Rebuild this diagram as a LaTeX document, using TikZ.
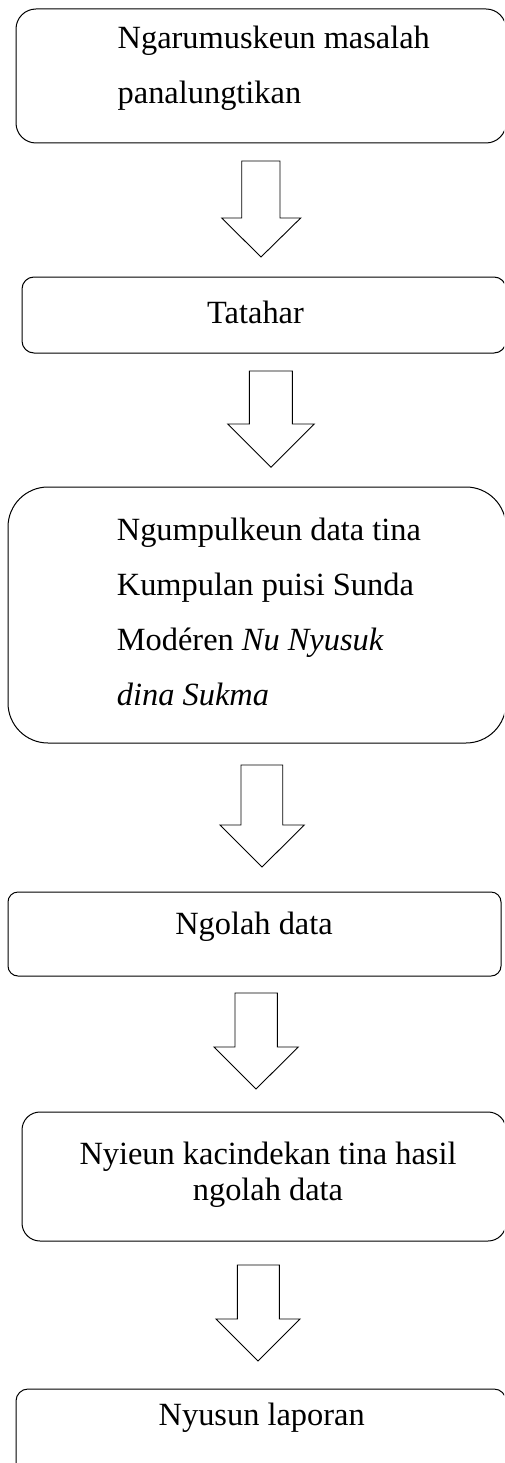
\documentclass[tikz,border=0pt]{standalone}
\usepackage{fontspec}
\setmainfont{Liberation Serif}
\begin{document}
\begin{tikzpicture}[x=1pt,y=-1pt,
  box/.style={draw=black, line width=1pt, inner sep=0pt},
  txt/.style={inner sep=0pt, font=\fontsize{32.4}{55.3}\selectfont},
  blk/.style={draw=black, line width=0.9pt, fill=white, line join=miter}]
\useasboundingbox (0,0) rectangle (504,1463);
\clip (0,0) rectangle (504,1463);
\newcommand\blockarrow[8]{%
  \draw[blk] (#2,#1) -- (#3,#1) -- (#3,#4) -- (#6,#4) -- (#8,#7) -- (#5,#4) -- (#2,#4) -- cycle;}
% boxes
\node[box, rounded corners=20pt, minimum width=490pt, minimum height=134pt] (b1) at (261,76) {};
\node[box, rounded corners=12pt, minimum width=484pt, minimum height=76pt] (b2) at (264,315) {};
\node[box, rounded corners=40pt, minimum width=498pt, minimum height=256pt] (b3) at (257,615) {};
\node[box, rounded corners=10pt, minimum width=493pt, minimum height=84pt] (b4) at (254.5,934) {};
\node[box, rounded corners=18pt, minimum width=484pt, minimum height=129pt] (b5) at (264,1176.5) {};
\node[box, rounded corners=12pt, minimum width=490pt, minimum height=90pt] (b6) at (261,1434) {};
% texts
\node[txt, anchor=north west, align=left] (t1) at (117.5,25.6) {Ngarumuskeun masalah\\panalungtikan};
\node[txt, anchor=base] (t2) at (255.5,323.3) {Tatahar};
\node[txt, anchor=north west, align=left] (t3) at (116.7,517.4) {Ngumpulkeun data tina\\Kumpulan puisi Sunda\\Modéren \textit{Nu Nyusuk}\\\textit{dina Sukma}};
\node[txt, anchor=base] (t4) at (254,934.3) {Ngolah data};
\node[txt, anchor=north, align=center, font=\fontsize{32.4}{36.5}\selectfont] (t5) at (268,1141.4) {Nyieun kacindekan tina hasil\\ngolah data};
\node[txt, anchor=base] (t6) at (261.7,1425) {Nyusun laporan};
% block arrows
\blockarrow{161}{241.7}{280}{218}{221.7}{300.7}{257}{261}
\blockarrow{371}{249.3}{292.3}{424}{227.7}{314.3}{467.3}{271}
\blockarrow{765}{241}{282.7}{825}{220}{304.3}{867}{262}
\blockarrow{993}{235}{277.3}{1047}{214}{298.3}{1089}{256}
\blockarrow{1265}{237.3}{279.3}{1319}{216}{300}{1361}{258}
\end{tikzpicture}
\end{document}
